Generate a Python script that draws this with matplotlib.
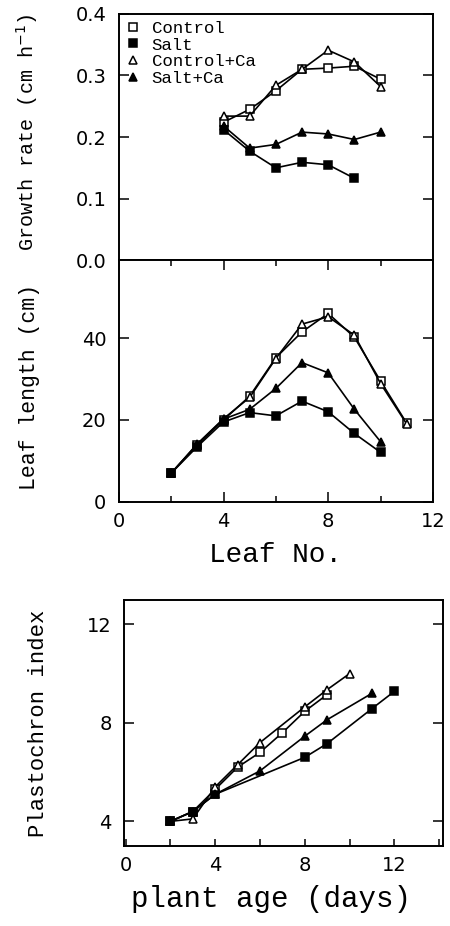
import numpy as np
import matplotlib
matplotlib.use('Agg')
import matplotlib.pyplot as plt
from matplotlib.ticker import MultipleLocator
from matplotlib.lines import Line2D

# growth rate vs leaf number
leaf_gr = [4, 5, 6, 7, 8, 9, 10]
gr_control = [0.224, 0.245, 0.275, 0.310, 0.312, 0.315, 0.294]
gr_salt = [0.212, 0.177, 0.150, 0.159, 0.155, 0.133]
gr_control_ca = [0.234, 0.234, 0.284, 0.310, 0.341, 0.322, 0.282]
gr_salt_ca = [0.218, 0.182, 0.188, 0.208, 0.205, 0.196, 0.208]

# leaf length vs leaf number
leaf_ll = [2, 3, 4, 5, 6, 7, 8, 9, 10, 11]
ll_control = [7.0, 14.0, 20.0, 25.8, 35.2, 41.5, 46.0, 40.2, 29.5, 19.2]
ll_salt = [7.0, 13.5, 19.5, 21.8, 21.0, 24.6, 22.0, 16.7, 12.1]
ll_control_ca = [7.0, 14.2, 20.3, 25.5, 35.0, 43.4, 45.2, 40.7, 28.9, 19.0]
ll_salt_ca = [7.0, 14.0, 20.2, 22.6, 27.7, 34.0, 31.5, 22.6, 14.7]

# plastochron index vs plant age
days_control = [2, 3, 4, 5, 6, 7, 8, 9]
pi_control = [4.0, 4.4, 5.3, 6.2, 6.8, 7.6, 8.47, 9.15]
days_salt = [2, 3, 4, 8, 9, 11, 12]
pi_salt = [4.0, 4.4, 5.1, 6.6, 7.16, 8.58, 9.28]
days_control_ca = [2, 3, 4, 5, 6, 8, 9, 10]
pi_control_ca = [4.0, 4.1, 5.4, 6.3, 7.2, 8.65, 9.35, 10.0]
days_salt_ca = [2, 3, 4, 6, 8, 9, 11]
pi_salt_ca = [4.0, 4.4, 5.1, 6.05, 7.46, 8.13, 9.2]

labels = ['Control', 'Salt', 'Control+Ca', 'Salt+Ca']
styles = [dict(marker='s', mfc='white'), dict(marker='s', mfc='black'),
          dict(marker='^', mfc='white'), dict(marker='^', mfc='black')]

mono = 'Liberation Mono'
plt.rcParams['font.family'] = 'DejaVu Sans'
plt.rcParams['axes.linewidth'] = 1.4

def draw(ax, xs, ys):
    for x, y, st in zip(xs, ys, styles):
        ax.plot(x, y, color='black', lw=1.2, ms=6, mec='black', mew=1.1, **st)

def style(ax):
    ax.tick_params(which='both', direction='in', right=True, top=True,
                   labelsize=14, width=1.1)
    ax.tick_params(which='major', length=7)
    ax.tick_params(which='minor', length=4)
    ax.tick_params(axis='y', pad=9)
    ax.tick_params(axis='x', pad=7)

fig = plt.figure(figsize=(4.5, 9.26), dpi=100)

ax1 = fig.add_axes([0.264, 0.719, 0.698, 0.266])
draw(ax1, [leaf_gr, leaf_gr[:6], leaf_gr, leaf_gr], [gr_control, gr_salt, gr_control_ca, gr_salt_ca])
ax1.set_xlim(0, 12)
ax1.set_ylim(0, 0.4)
ax1.set_yticks([0.0, 0.1, 0.2, 0.3, 0.4])
ax1.set_yticklabels(['0.0', '0.1', '0.2', '0.3', '0.4'])
style(ax1)
ax1.tick_params(axis='x', which='both', bottom=False, top=False, labelbottom=False)
ax1.set_ylabel('Growth rate (cm h$^{-1}$)', family=mono, fontsize=14.5)
ax1.yaxis.set_label_coords(-0.25, 0.52)
proxies = [Line2D([], [], ls='none', color='black', ms=5.5, mec='black', mew=1.1, **st)
           for st in styles]
ax1.legend(proxies, labels, loc='upper left', frameon=False, prop={'family': mono, 'size': 12.5},
           handlelength=0.8, handletextpad=0.7, labelspacing=0.08,
           borderaxespad=0.0, bbox_to_anchor=(0.0, 1.0))

ax2 = fig.add_axes([0.264, 0.458, 0.698, 0.261])
draw(ax2, [leaf_ll, leaf_ll[:9], leaf_ll, leaf_ll[:9]], [ll_control, ll_salt, ll_control_ca, ll_salt_ca])
ax2.set_xlim(0, 12)
ax2.set_ylim(0, 59)
ax2.set_yticks([0, 20, 40])
ax2.xaxis.set_major_locator(MultipleLocator(4))
ax2.xaxis.set_minor_locator(MultipleLocator(2))
style(ax2)
ax2.set_ylabel('Leaf length (cm)', family=mono, fontsize=15.5)
ax2.yaxis.set_label_coords(-0.25, 0.475)
ax2.set_xlabel('Leaf No.', family=mono, fontsize=20, labelpad=8)

ax3 = fig.add_axes([0.2756, 0.0864, 0.708, 0.266])
draw(ax3, [days_control, days_salt, days_control_ca, days_salt_ca],
     [pi_control, pi_salt, pi_control_ca, pi_salt_ca])
ax3.set_xlim(-0.07, 14.15)
ax3.set_ylim(3, 13)
ax3.set_yticks([4, 8, 12])
ax3.set_xticks([0, 4, 8, 12])
ax3.xaxis.set_minor_locator(MultipleLocator(2))
ax3.tick_params(which='both', direction='in', right=True, labelsize=14, width=1.1)
ax3.tick_params(axis='y', length=7, pad=9)
ax3.tick_params(axis='x', which='both', length=5, pad=7)
ax3.set_ylabel('Plastochron index', family=mono, fontsize=16)
ax3.yaxis.set_label_coords(-0.235, 0.5)
ax3.set_xlabel('plant age (days)', family=mono, fontsize=21)
ax3.xaxis.set_label_coords(0.46, -0.16)

fig.savefig('out.png', dpi=100)
